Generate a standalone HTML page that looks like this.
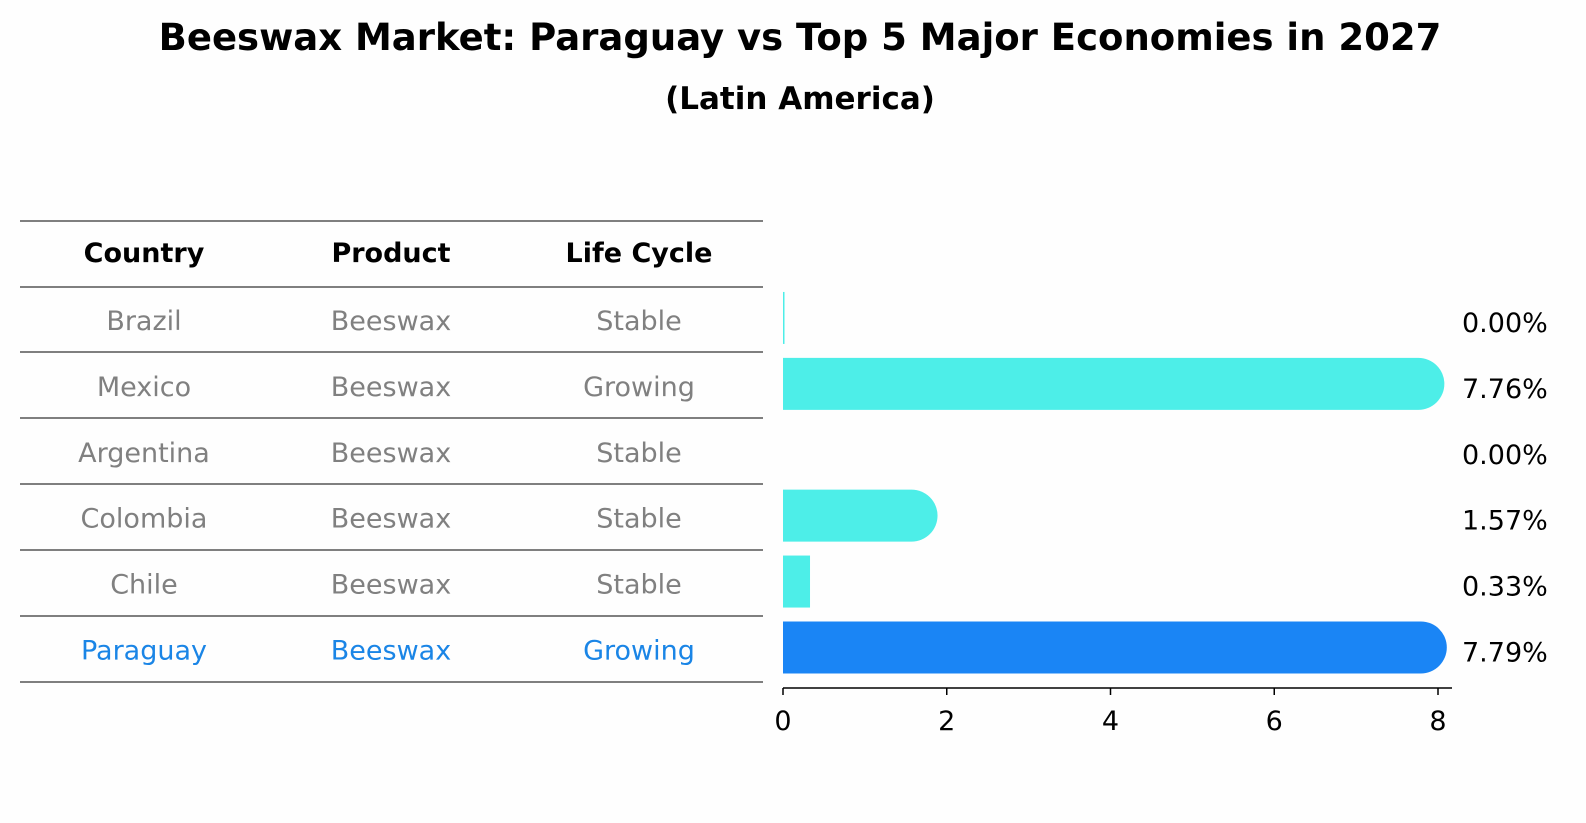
<!DOCTYPE html>
<html><head><meta charset="utf-8"><style>
body{margin:0;background:#fefefe;}
svg{display:block;font-family:"DejaVu Sans","Liberation Sans",sans-serif;}
</style></head><body>
<svg width="1586" height="823" viewBox="0 0 1586 823">
<rect width="1586" height="823" fill="#fefefe"/>
<text x="800" y="50" text-anchor="middle" font-size="37" font-weight="bold">Beeswax Market: Paraguay vs Top 5 Major Economies in 2027</text>
<text x="800" y="109" text-anchor="middle" font-size="31" font-weight="bold">(Latin America)</text>
<g id="table"></g>
<g id="bars"></g>
</svg>
<script>
const countries=["Brazil","Mexico","Argentina","Colombia","Chile","Paraguay"];
const products=["Beeswax","Beeswax","Beeswax","Beeswax","Beeswax","Beeswax"];
const lifeCycles=["Stable","Growing","Stable","Stable","Stable","Growing"];
const growth=[0.00,7.76,0.00,1.57,0.33,7.79];
const ticks=[0,2,4,6,8];

const NS="http://www.w3.org/2000/svg";
function mk(tag,attrs,parent){const e=document.createElementNS(NS,tag);for(const k in attrs)e.setAttribute(k,attrs[k]);parent.appendChild(e);return e;}
const table=document.getElementById('table');
const bars=document.getElementById('bars');
const lineYs=[221,287,352,418,484,550,616,682];
const colX=[144,391,639];
lineYs.forEach((y,i)=>{
  const l=mk('line',{x1:20,x2:763,y1:y,y2:y,stroke:'#000','stroke-width':1},table);
  
  
});
["Country","Product","Life Cycle"].forEach((h,i)=>{
  const t=mk('text',{x:colX[i],y:262,'text-anchor':'middle','font-size':27,'font-weight':'bold'},table);
  t.textContent=h;
  
  
});
const rowH=65.9, rowTop=287;
countries.forEach((c,i)=>{
  const cy=rowTop+rowH*(i+0.5);
  const col=(c==="Paraguay")?'#1a85e6':'#808080';
  [c,products[i],lifeCycles[i]].forEach((v,j)=>{
    const t=mk('text',{x:colX[j],y:cy+10,'text-anchor':'middle','font-size':27,fill:col},table);
    t.textContent=v;
    
    
  });
});
const x0=783,pxPer=(1438-783)/8;
const xs=v=>x0+v*pxPer;
const ys=i=>rowTop+rowH*(i+0.5)-2;
const bh=52,r=26;
countries.forEach((c,i)=>{
  const v=growth[i],yc=ys(i),col=(c==="Paraguay")?'#1a85f5':'#4deee8';
  const xe=xs(v);
  let el;
  if(v>1){
    el=mk('path',{d:`M${x0},${yc-bh/2} L${xe},${yc-bh/2} A${r},${r} 0 0 1 ${xe},${yc+bh/2} L${x0},${yc+bh/2} Z`,fill:col},bars);
  }else{
    el=mk('rect',{x:x0,y:yc-bh/2,width:Math.max(xe-x0,1.5),height:bh,fill:col},bars);
    if(v===0 && i!==0) el.setAttribute('opacity','0');
  }
  
  
  const t=mk('text',{x:1462,y:yc+14,'font-size':27},bars);
  t.textContent=v.toFixed(2)+'%';
  
  
});
const ax=mk('line',{x1:x0,x2:1452,y1:688,y2:688,stroke:'#000','stroke-width':1.5},bars);


ticks.forEach(t=>{
  const tl=mk('line',{x1:xs(t),x2:xs(t),y1:688,y2:695,stroke:'#000','stroke-width':1.5},bars);
  
  
  const tx=mk('text',{x:xs(t),y:730,'text-anchor':'middle','font-size':27},bars);
  tx.textContent=t;
  
  
});
</script>
</body></html>
